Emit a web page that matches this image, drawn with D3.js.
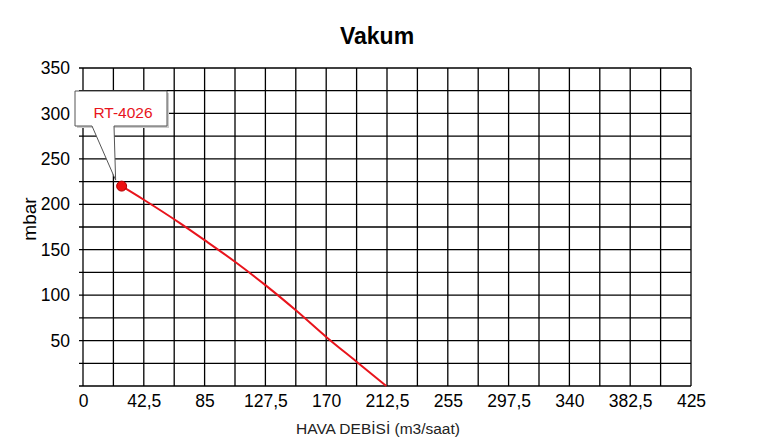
<!DOCTYPE html>
<html><head><meta charset="utf-8">
<script src="https://cdn.jsdelivr.net/npm/d3@7"></script>
<style>body{margin:0;background:#fff}svg{display:block}text{font-family:"Liberation Sans",Arial,sans-serif}</style>
</head><body><div id="chart"></div>
<script>
const title = "Vakum";
const xTitle = "HAVA DEBİSİ (m3/saat)";
const yTitle = "mbar";
const seriesName = "RT-4026";
const xTickValues = [0, 42.5, 85, 127.5, 170, 212.5, 255, 297.5, 340, 382.5, 425];
const xTickLabels = ["0", "42,5", "85", "127,5", "170", "212,5", "255", "297,5", "340", "382,5", "425"];
const yTickValues = [50, 100, 150, 200, 250, 300, 350];
const flow = [27, 42.5, 68, 85, 106, 127.5, 149, 170, 191, 212];
const vacuum = [220, 205, 179, 160.5, 137, 111, 83, 54, 27, 0];

const W = 757, H = 446;
const m = {l: 83, r: 66, t: 68, b: 60};
const svg = d3.select("#chart").append("svg").attr("width", W).attr("height", H);
const x = d3.scaleLinear().domain([0, 425]).range([m.l, W - m.r]);
const y = d3.scaleLinear().domain([0, 350]).range([H - m.b, m.t]);

// grid
const xGrid = d3.range(0, 425.01, 21.25);
const yGrid = d3.range(0, 350.01, 25);
svg.append("g").selectAll("line").data(xGrid).join("line")
  .attr("x1", d => x(d)).attr("x2", d => x(d)).attr("y1", y(0)).attr("y2", y(350))
  .attr("stroke", "#000").attr("stroke-width", 1.3);
svg.append("g").selectAll("line").data(yGrid).join("line")
  .attr("x1", x(0) - 4).attr("x2", x(425)).attr("y1", d => y(d)).attr("y2", d => y(d))
  .attr("stroke", "#000").attr("stroke-width", 1.3);

// axes labels
const xAxis = d3.axisBottom(x).tickValues(xTickValues).tickSize(0).tickPadding(9)
  .tickFormat((d, i) => xTickLabels[i]);
const gx = svg.append("g").attr("transform", `translate(0,${y(0)})`).call(xAxis);
gx.select(".domain").remove();
gx.selectAll("text").attr("font-size", 17.5).attr("fill", "#000").attr("font-family", "Liberation Sans, Arial, sans-serif");

const yAxis = d3.axisLeft(y).tickValues(yTickValues).tickSize(0).tickPadding(13);
const gy = svg.append("g").attr("transform", `translate(${x(0)},0)`).call(yAxis);
gy.select(".domain").remove();
gy.selectAll("text").attr("font-size", 17.5).attr("fill", "#000").attr("font-family", "Liberation Sans, Arial, sans-serif");

// titles
svg.append("text").attr("x", 377).attr("y", 44).attr("text-anchor", "middle")
  .attr("font-size", 23).attr("font-weight", "bold").text(title);
svg.append("text").attr("x", 378).attr("y", 434).attr("text-anchor", "middle")
  .attr("font-size", 15.5).attr("fill", "#222").text(xTitle);
svg.append("text").attr("transform", `translate(36,${(y(0) + y(350)) / 2 - 8}) rotate(-90)`)
  .attr("text-anchor", "middle").attr("font-size", 19).attr("fill", "#000").text(yTitle);

// series
const pts = flow.map((f, i) => [f, vacuum[i]]);
svg.append("path").datum(pts)
  .attr("d", d3.line().x(d => x(d[0])).y(d => y(d[1])).curve(d3.curveMonotoneX))
  .attr("fill", "none").attr("stroke", "#e8141c").attr("stroke-width", 2);
svg.append("circle").attr("cx", x(flow[0])).attr("cy", y(vacuum[0])).attr("r", 5)
  .attr("fill", "#ee1111").attr("stroke", "#b00000").attr("stroke-width", 1);

// callout
const px = x(flow[0]) - 6, py = y(vacuum[0]) - 6;
const bx = 75, by = 91, bw = 92, bh = 35;
svg.append("path")
  .attr("d", `M${bx + 2},${by + 2} H${bx + bw + 2} V${by + bh + 2} H${bx + 2} Z`)
  .attr("fill", "#ccc");
svg.append("path")
  .attr("d", `M${bx},${by} H${bx + bw} V${by + bh} H${bx + 39} L${px},${py} L${bx + 17},${by + bh} H${bx} Z`)
  .attr("fill", "#fff").attr("stroke", "#555").attr("stroke-width", 1);
svg.append("text").attr("x", bx + bw / 2 + 2).attr("y", by + 27).attr("text-anchor", "middle")
  .attr("font-size", 15.5).attr("fill", "#e8141c").text(seriesName);
</script></body></html>
